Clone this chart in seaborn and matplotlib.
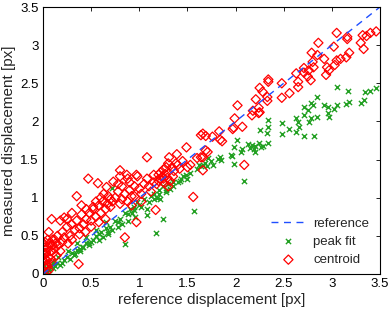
import matplotlib
matplotlib.use("Agg")
import matplotlib.pyplot as plt
import seaborn as sns
import pandas as pd

# reference line
ref_x = [0.0, 3.5]
ref_y = [0.0, 3.5]

# centroid (red diamonds)
centroid_x = [
    3.46, 3.40, 3.32, 3.36, 3.30, 3.33, 3.16, 3.16, 3.05, 3.02,
    3.18, 3.15, 3.09, 3.05, 3.03, 2.97, 2.95, 2.94, 2.86, 2.85,
    2.79, 2.80, 2.81, 2.92, 2.76, 2.78, 2.75, 2.71, 2.71, 2.65,
    2.63, 2.65, 2.56, 2.48, 2.48, 2.34, 2.34, 2.25, 2.28, 2.21,
    2.33, 2.33, 2.24, 2.24, 2.18, 2.17, 2.25, 2.02, 1.99, 2.07,
    1.97, 1.98, 1.83, 1.76, 1.84, 1.86, 1.64, 1.69, 1.66, 1.69,
    1.71, 1.66, 1.49, 1.39, 1.31, 1.08, 1.66, 1.64, 1.56, 2.09,
    1.40, 1.28, 1.25, 1.22, 1.20, 1.24, 1.27, 1.53, 0.80, 0.80,
    0.47, 0.57, 0.66, 0.35, 0.73, 0.87, 0.90, 0.95, 0.98, 0.97,
    1.08, 1.15, 1.18, 1.10, 0.97, 0.85, 0.37, 0.09, 0.18, 0.22,
    0.06, 0.00, 1.17, 1.30, 1.34, 1.32, 1.26, 1.29, 1.22, 1.36,
    0.90, 0.92, 0.88, 0.85, 0.82, 0.80, 0.78, 0.75, 0.72, 0.70,
    0.68, 0.65, 0.62, 0.60, 0.58, 0.55, 0.52, 0.50, 0.48, 0.45,
    0.42, 0.40, 0.38, 0.35, 0.33, 0.30, 0.28, 0.25, 0.22, 0.20,
    0.65, 0.58, 0.50, 0.44, 0.38, 0.30, 0.26, 0.15, 0.12, 0.16,
    0.00, 0.00, 0.01, 0.01, 0.02, 0.02, 0.03, 0.03, 0.04, 0.05,
    0.06, 0.07, 0.08, 0.09, 0.10, 0.11, 0.12, 0.14, 0.05, 0.03,
    0.00, 0.01, 0.02, 0.04, 0.06, 0.08, 0.10, 0.13, 0.18, 0.20,
    1.00, 1.02, 1.05, 1.12, 1.15, 1.20, 1.25, 1.30, 1.35, 0.95,
    0.60, 0.63, 0.67, 0.70, 0.55, 0.52, 0.45, 0.40, 0.30, 0.25,
    0.82, 0.88, 0.92, 0.78, 1.38, 1.42, 1.45, 1.60, 1.50, 1.02,
]
centroid_y = [
    3.18, 3.16, 3.13, 3.12, 3.03, 2.95, 3.08, 3.11, 3.16, 2.98,
    2.90, 2.84, 2.82, 2.80, 2.74, 2.67, 2.71, 2.61, 3.03, 2.87,
    2.90, 2.78, 2.71, 2.82, 2.67, 2.54, 2.59, 2.70, 2.64, 2.52,
    2.63, 2.45, 2.37, 2.31, 2.50, 2.55, 2.52, 2.44, 2.39, 2.29,
    2.32, 2.27, 2.18, 2.11, 2.14, 2.08, 2.12, 2.21, 2.04, 1.93,
    1.90, 1.92, 1.87, 1.80, 1.76, 1.74, 1.82, 1.81, 1.84, 1.62,
    1.60, 1.53, 1.66, 1.57, 1.53, 1.53, 1.36, 1.53, 1.01, 1.43,
    1.43, 1.40, 1.37, 1.33, 1.30, 1.28, 1.31, 1.43, 1.36, 1.28,
    1.25, 1.19, 1.14, 1.02, 1.21, 1.30, 1.20, 1.15, 1.28, 1.30,
    1.25, 1.30, 1.18, 1.15, 0.68, 0.48, 0.13, 0.72, 0.70, 0.74,
    0.55, 0.41, 0.84, 1.45, 1.40, 1.22, 1.19, 1.26, 1.24, 1.35,
    1.10, 1.02, 0.95, 1.05, 0.98, 0.92, 1.08, 1.00, 0.95, 0.88,
    1.02, 0.85, 0.95, 0.80, 0.90, 0.75, 0.85, 0.70, 0.80, 0.72,
    0.65, 0.78, 0.60, 0.70, 0.58, 0.65, 0.50, 0.62, 0.48, 0.55,
    0.72, 0.68, 0.62, 0.55, 0.52, 0.45, 0.40, 0.50, 0.45, 0.38,
    0.05, 0.15, 0.10, 0.25, 0.20, 0.32, 0.08, 0.28, 0.18, 0.35,
    0.22, 0.40, 0.30, 0.15, 0.38, 0.28, 0.33, 0.24, 0.45, 0.02,
    0.00, 0.35, 0.42, 0.12, 0.05, 0.20, 0.45, 0.40, 0.30, 0.42,
    1.12, 1.05, 1.18, 1.08, 1.20, 1.22, 1.25, 1.15, 1.28, 1.02,
    1.00, 1.05, 0.92, 0.98, 0.95, 0.88, 0.85, 0.90, 0.80, 0.72,
    1.15, 1.25, 0.90, 1.18, 1.45, 1.38, 1.48, 1.52, 1.40, 0.95,
]

# peak fit (green crosses)
peak_x = [
    3.46, 3.40, 3.34, 3.33, 3.30, 3.18, 3.15, 3.05, 3.17, 3.05,
    3.02, 2.96, 2.92, 2.96, 2.97, 2.85, 2.78, 2.80, 2.75, 2.71,
    2.78, 2.76, 2.85, 2.71, 2.63, 2.65, 2.66, 2.56, 2.63, 2.71,
    2.81, 2.48, 2.48, 2.34, 2.34, 2.25, 2.33, 2.34, 2.24, 2.20,
    2.26, 2.17, 2.13, 2.15, 2.19, 2.28, 2.02, 1.98, 2.07, 1.95,
    1.84, 1.82, 1.71, 1.66, 1.68, 1.70, 1.64, 1.74, 1.77, 1.85,
    1.96, 1.98, 2.09, 1.57, 1.53, 2.06, 2.20, 1.48, 1.43, 1.40,
    1.35, 1.30, 1.25, 1.20, 1.25, 1.17, 1.08, 1.08, 1.00, 0.95,
    0.85, 1.12, 1.05, 0.98, 0.90, 0.85, 0.80, 0.75, 0.70, 0.65,
    0.60, 0.55, 0.50, 0.72, 0.94, 1.20, 1.28, 1.32, 1.22, 1.18,
    0.45, 0.40, 0.38, 0.35, 0.32, 0.30, 0.28, 0.25, 0.22, 0.20,
    0.18, 0.15, 0.12, 0.10, 0.08, 0.06, 0.05, 0.04, 0.03, 0.02,
    0.88, 0.82, 0.78, 0.72, 0.68, 0.62, 0.58, 0.52, 0.48, 0.42,
    0.65, 0.55, 0.45, 0.35, 0.26, 0.16, 0.10, 0.00, 0.01, 0.00,
    1.10, 1.15, 1.28, 1.35, 1.42, 1.45, 1.50, 0.92, 0.96, 1.02,
    0.78, 0.68, 0.58, 0.48, 0.38, 0.33, 1.60, 1.62, 1.15, 0.88,
]
peak_y = [
    2.44, 2.40, 2.38, 2.28, 2.24, 2.25, 2.23, 2.45, 2.40, 2.22,
    2.16, 2.19, 2.22, 2.11, 2.06, 2.32, 2.24, 2.21, 2.15, 2.08,
    2.04, 1.99, 2.06, 2.19, 2.04, 1.99, 1.93, 1.90, 1.86, 1.81,
    1.81, 1.98, 1.83, 2.02, 1.93, 1.89, 1.85, 1.72, 1.72, 1.68,
    1.66, 1.69, 1.70, 1.65, 1.64, 1.68, 1.76, 1.66, 1.64, 1.56,
    1.53, 1.51, 1.52, 1.43, 1.45, 1.41, 1.41, 1.48, 1.43, 1.50,
    1.55, 1.44, 1.22, 0.83, 1.32, 1.60, 1.60, 1.30, 1.25, 1.20,
    1.20, 1.18, 1.15, 1.10, 0.72, 0.54, 0.77, 0.85, 0.90, 0.88,
    0.39, 1.02, 0.98, 0.95, 0.85, 0.80, 0.72, 0.70, 0.62, 0.60,
    0.55, 0.50, 0.42, 1.13, 0.84, 1.05, 1.08, 1.12, 0.98, 1.00,
    0.40, 0.35, 0.30, 0.32, 0.25, 0.28, 0.20, 0.22, 0.18, 0.15,
    0.12, 0.15, 0.10, 0.08, 0.12, 0.05, 0.10, 0.03, 0.06, 0.02,
    0.70, 0.65, 0.62, 0.58, 0.55, 0.48, 0.45, 0.45, 0.38, 0.36,
    0.68, 0.58, 0.48, 0.40, 0.30, 0.22, 0.16, 0.05, 0.12, 0.00,
    0.95, 0.98, 1.10, 1.15, 1.22, 1.28, 1.25, 0.80, 0.75, 0.88,
    0.68, 0.52, 0.52, 0.40, 0.33, 0.26, 1.38, 1.43, 1.05, 0.78,
]

sns.set_style("white")
plt.rcParams['font.family'] = ['Liberation Sans', 'DejaVu Sans']

fig = plt.figure(figsize=(3.88, 3.13), dpi=100)
ax = fig.add_axes([43/388, 1 - 274/313, (380-43)/388, (274-7)/313])

ref_df = pd.DataFrame({"x": ref_x, "y": ref_y})
peak_df = pd.DataFrame({"x": peak_x, "y": peak_y})
cen_df = pd.DataFrame({"x": centroid_x, "y": centroid_y})

sns.lineplot(data=ref_df, x="x", y="y", ax=ax, color="#1f4fff", lw=1.0,
             linestyle=(0, (5, 4)), label="reference")
sns.scatterplot(data=peak_df, x="x", y="y", ax=ax, marker="x", color="#22a022",
                s=14, linewidth=1.0, label="peak fit")
sns.scatterplot(data=cen_df, x="x", y="y", ax=ax, marker="D", facecolor="none",
                edgecolor="#ff0000", s=22, linewidth=0.9, label="centroid")

ax.set_xlim(0, 3.5)
ax.set_ylim(0, 3.5)
ticks = [0, 0.5, 1, 1.5, 2, 2.5, 3, 3.5]
ticklabels = ["0", "0.5", "1", "1.5", "2", "2.5", "3", "3.5"]
ax.set_xticks(ticks)
ax.set_xticklabels(ticklabels)
ax.set_yticks(ticks)
ax.set_yticklabels(ticklabels)
ax.tick_params(direction="in", length=3, width=0.6, top=True, right=True,
               labelsize=9.5, pad=3, colors="black")
for s in ax.spines.values():
    s.set_color("black")
    s.set_linewidth(0.8)
ax.set_xlabel("reference displacement [px]", fontsize=11, labelpad=2)
ax.set_ylabel("measured displacement [px]", fontsize=11, labelpad=3)

ax.legend(loc="lower right", frameon=False, fontsize=9.5, handlelength=2.6,
          borderaxespad=0.4, bbox_to_anchor=(1.0, -0.01),
          labelspacing=0.45, handletextpad=0.6)

fig.savefig("out.png", dpi=100)
